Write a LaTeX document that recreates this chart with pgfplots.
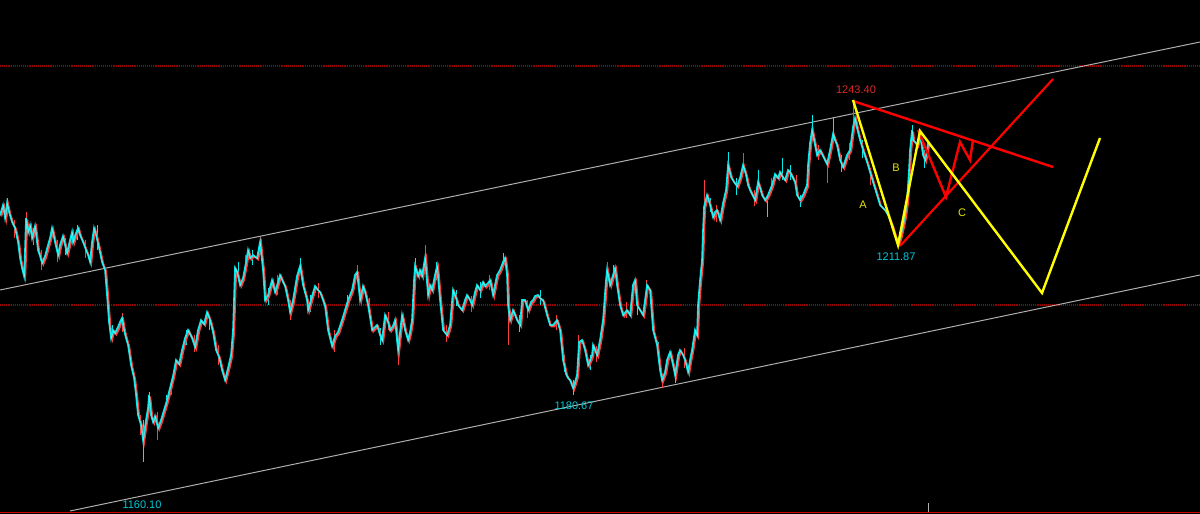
\documentclass[border=0pt]{standalone}
\usepackage{pgfplots}
\usepackage{pgfplotstable}
\pgfplotsset{compat=1.18}
\usepackage{fontspec}
\setmainfont{Liberation Sans}
\definecolor{cy}{RGB}{0,235,235}
\definecolor{rd}{RGB}{255,60,60}
\definecolor{ch}{RGB}{175,175,175}
\definecolor{dr}{RGB}{150,0,0}
\definecolor{yl}{RGB}{255,255,0}
\definecolor{rr}{RGB}{255,0,0}
\definecolor{lblc}{RGB}{0,200,215}
\definecolor{lblr}{RGB}{220,40,40}
\pgfplotstableread{
x y
0 215
3 205
5 218
7 203
9 212
12 222
15 228
18 242
20 258
22 268
24 276
25 250
26 218
28 232
30 225
32 238
35 226
38 250
40 256
42 263
45 256
48 245
50 238
52 228
55 242
58 255
60 245
63 236
65 245
67 253
70 240
72 232
73 242
76 233
78 228
80 235
83 242
86 250
88 255
90 262
92 242
94 228
96 235
99 248
102 262
105 270
107 295
109 322
111 338
113 330
115 333
118 327
120 322
122 318
124 330
126 338
128 345
131 365
134 378
136 395
138 415
141 425
143 440
146 420
148 408
149 395
151 415
153 422
155 416
158 428
161 420
164 410
167 400
170 388
173 376
176 360
179 364
182 350
185 338
188 330
190 334
192 338
195 347
198 330
201 320
204 324
207 312
210 320
213 332
216 350
219 357
222 370
225 380
228 368
231 355
233 330
235 268
237 272
240 285
243 278
246 262
248 250
250 258
253 255
257 258
260 242
263 270
265 300
268 295
272 280
275 292
278 282
280 275
283 282
285 286
288 300
290 312
293 300
297 276
300 266
303 285
307 300
308 310
312 296
315 286
318 290
320 292
323 300
325 306
328 330
332 346
335 336
338 332
342 320
345 310
348 300
352 290
355 275
357 272
360 300
363 286
365 292
368 305
372 330
377 325
380 335
382 340
385 315
388 322
390 330
393 326
395 320
398 350
400 332
402 315
405 330
408 340
410 332
412 320
414 280
415 266
418 276
420 270
422 276
425 258
428 295
430 285
432 290
435 275
437 266
440 300
443 330
447 335
450 325
453 290
456 298
458 305
462 310
465 300
467 295
470 300
472 305
475 292
477 285
480 290
483 282
485 286
488 283
490 280
493 295
497 275
500 270
503 262
505 258
507 275
508 305
510 320
513 310
517 320
520 325
522 300
525 300
528 310
531 302
533 300
535 296
538 295
540 298
543 300
547 315
550 325
553 325
557 320
560 330
563 360
566 374
568 378
570 380
573 388
575 382
577 375
579 342
582 340
585 350
588 365
590 360
592 355
593 345
597 355
600 340
603 320
606 280
607 270
610 285
613 275
615 268
617 285
620 305
623 315
627 310
630 315
633 285
635 280
637 305
640 310
643 315
647 285
650 290
653 330
657 345
660 370
662 380
665 372
667 360
670 352
673 365
675 375
678 355
680 350
683 355
685 360
688 372
690 360
692 350
695 330
697 335
698 305
700 280
702 260
703 230
704 207
707 195
710 205
713 217
715 212
717 210
720 220
723 203
726 190
728 165
731 177
734 182
737 186
740 178
743 165
746 175
748 185
750 190
752 194
755 200
758 182
760 188
762 195
765 200
768 195
772 185
775 174
778 178
780 172
782 176
785 180
788 170
790 172
792 176
795 182
797 195
800 200
803 195
807 185
808 165
810 143
812 130
814 140
817 155
820 150
823 156
827 164
830 150
833 134
835 140
837 145
840 160
843 167
847 155
850 150
853 127
855 118
857 128
860 140
863 150
867 162
870 172
873 182
877 195
880 205
883 208
885 210
888 215
892 225
895 235
898 243
900 238
903 225
905 215
907 200
909 170
910 150
912 130
913 140
915 142
917 145
920 135
923 155
925 160
927 150
928 143
}\price
\begin{document}
\begin{tikzpicture}
\begin{axis}[
  width=1200pt, height=514pt, scale only axis,
  xmin=0, xmax=1200, ymin=0, ymax=514, y dir=reverse,
  hide axis, clip=true,
  unbounded coords=jump,
]
% background
\addplot[draw=none, fill=black] coordinates {(0,0) (1200,0) (1200,514) (0,514)} \closedcycle;
% dotted levels
\addplot[dr, line width=1.1pt, densely dotted] coordinates {(0,66) (1200,66)};
\addplot[dr, line width=1.1pt, densely dotted] coordinates {(0,305) (1200,305)};
% bottom red line
\addplot[rr!80!black, line width=1.6pt] coordinates {(0,512.5) (1200,512.5)};
% gray tick
\addplot[ch, line width=1pt] coordinates {(928,503) (928,512)};
% channel
\addplot[ch, line width=1pt] coordinates {(0,290) (1200,42)};
\addplot[ch, line width=1pt] coordinates {(70,511) (1200,275)};
% wicks
\addplot[rd, line width=1pt] coordinates {
(26,212) (26,240)

(14,220) (14,238)

(41,250) (41,270)

(57,240) (57,262)

(85,240) (85,258)

(122,313) (122,332)

(140,415) (140,435)

(157,412) (157,440)

(171,380) (171,395)

(194,335) (194,352)

(218,345) (218,365)

(245,255) (245,275)

(260,237) (260,255)

(277,275) (277,295)

(290,300) (290,320)

(318,283) (318,298)

(334,330) (334,352)

(357,265) (357,282)

(369,298) (369,318)

(388,312) (388,330)

(398,340) (398,365)

(425,245) (425,262)

(446,325) (446,342)

(471,296) (471,312)

(489,275) (489,290)

(508,300) (508,345)

(527,300) (527,318)

(556,315) (556,330)

(578,335) (578,352)

(596,346) (596,362)

(607,262) (607,285)

(626,302) (626,318)

(646,280) (646,295)

(662,375) (662,388)

(684,348) (684,368)

(704,180) (704,210)

(716,205) (716,222)

(743,153) (743,170)

(754,190) (754,206)

(771,178) (771,193)

(796,175) (796,195)

(818,145) (818,160)

(827,160) (827,183)

(849,143) (849,160)

(870,168) (870,185)

(853,100) (853,125)
};
\addplot[cy, line width=1pt] coordinates {
(7,198) (7,215)

(33,228) (33,245)

(65,238) (65,255)

(77,225) (77,240)

(97,225) (97,250)

(112,325) (112,342)

(143,420) (143,462)

(149,392) (149,410)

(166,395) (166,410)

(186,330) (186,345)

(209,315) (209,330)

(238,262) (238,280)

(252,250) (252,265)

(268,288) (268,305)

(300,258) (300,272)

(310,295) (310,312)

(347,295) (347,310)

(380,328) (380,345)

(415,258) (415,275)

(436,262) (436,280)

(456,290) (456,306)

(480,282) (480,298)

(503,253) (503,265)

(519,315) (519,332)

(540,290) (540,305)

(564,355) (564,372)

(573,380) (573,395)

(590,355) (590,370)

(613,265) (613,280)

(637,298) (637,315)

(658,342) (658,360)

(675,370) (675,383)

(692,343) (692,358)

(710,198) (710,212)

(728,152) (728,170)

(736,178) (736,195)

(758,170) (758,185)

(767,195) (767,217)

(782,158) (782,180)

(790,165) (790,180)

(800,195) (800,207)

(812,115) (812,135)

(833,118) (833,140)

(841,155) (841,172)

(862,140) (862,158)

(912,125) (912,137)

(924,150) (924,168)
};
% price
\addplot[rd, line width=1.7pt] table[x expr=\thisrow{x}+1.3, y expr=\thisrow{y}+1.5] {\price};
\addplot[cy, line width=1.6pt] table[x=x, y=y] {\price};
\addplot[white!80!gray, line width=0.4pt, opacity=0.6] table[x expr=\thisrow{x}+0.6, y expr=\thisrow{y}+0.8] {\price};
% red projection lines
\addplot[rr, line width=2.4pt] coordinates {(853,101) (1053,167)};
\addplot[rr, line width=2.2pt] coordinates {(900,246) (1053,79)};
\addplot[rr, line width=2.4pt] coordinates {(918,130) (946,197) (960,142) (970,160) (973,140)};
% yellow wave
\addplot[yl, line width=2.4pt] coordinates {(853,100) (898,245) (920,131) (1042,293) (1100,138)};
% labels
\node[text=lblr, font=\fontsize{11}{13}\selectfont] at (axis cs:856,90) {1243.40};
\node[text=lblc, font=\fontsize{11}{13}\selectfont] at (axis cs:896,257) {1211.87};
\node[text=lblc, font=\fontsize{11}{13}\selectfont] at (axis cs:142,505) {1160.10};
\node[text=lblc, font=\fontsize{11}{13}\selectfont] at (axis cs:574,406) {1180.67};
\node[text=yl!90!black, font=\fontsize{11}{13}\selectfont] at (axis cs:863,205) {A};
\node[text=yl!90!black, font=\fontsize{11}{13}\selectfont] at (axis cs:896,168) {B};
\node[text=yl!90!black, font=\fontsize{11}{13}\selectfont] at (axis cs:962,213) {C};
\end{axis}
\end{tikzpicture}
\end{document}
